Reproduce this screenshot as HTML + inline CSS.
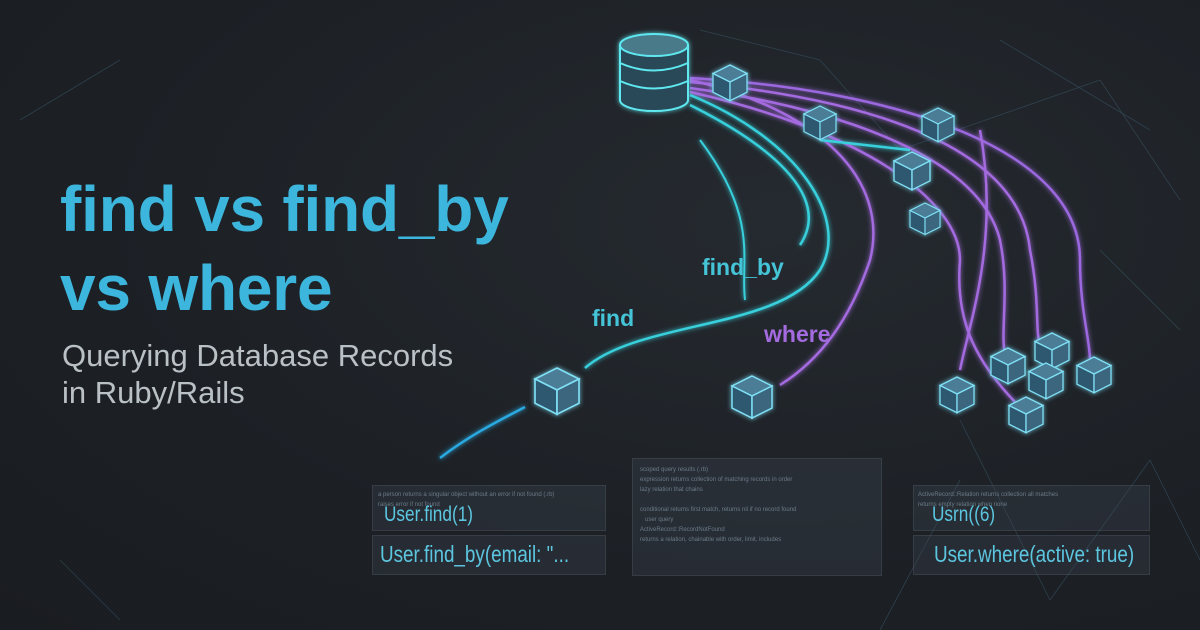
<!DOCTYPE html>
<html><head><meta charset="utf-8"><style>
html,body{margin:0;padding:0}
body{width:1200px;height:630px;overflow:hidden;background:radial-gradient(ellipse at 65% 35%,#252a30 0%,#1d2126 55%,#191c20 100%);font-family:"Liberation Sans",sans-serif;position:relative}
.t{position:absolute;color:#3cb6dc;font-weight:bold;font-size:64px;left:60px;letter-spacing:-0.2px;line-height:76px}
.s{position:absolute;color:#b9c0c6;font-size:31px;left:62px;line-height:36px}
.p{position:absolute;background:rgba(60,70,80,0.35);border:1px solid rgba(90,100,110,0.3)}
.c{position:absolute;color:#5cc6e0;font-family:"Liberation Sans",sans-serif;font-size:21px;transform:scaleX(0.82);transform-origin:left}
.m{position:absolute;font-size:6px;color:#6a7b88;line-height:10px;white-space:pre}
</style></head><body>
<svg width="1200" height="630" style="position:absolute;left:0;top:0">
<defs>
<filter id="g"><feGaussianBlur stdDeviation="2.5" result="b"/><feMerge><feMergeNode in="b"/><feMergeNode in="SourceGraphic"/></feMerge></filter>
<g id="cube"><polygon points="0,-20 20,-10 0,0 -20,-10" fill="#4c7d96" stroke="#7fe0f5" stroke-width="1.5"/><polygon points="-20,-10 0,0 0,22 -20,12" fill="#2f5870" stroke="#7fe0f5" stroke-width="1.5"/><polygon points="20,-10 0,0 0,22 20,12" fill="#3a667e" stroke="#7fe0f5" stroke-width="1.5"/></g>
</defs>
<g stroke="#3a5566" stroke-width="0.8" opacity="0.6">
<line x1="700" y1="30" x2="820" y2="60"/><line x1="820" y1="60" x2="900" y2="150"/><line x1="900" y1="150" x2="1100" y2="80"/><line x1="1100" y1="80" x2="1180" y2="200"/><line x1="960" y1="420" x2="1050" y2="600"/><line x1="1050" y1="600" x2="1150" y2="460"/><line x1="1150" y1="460" x2="1200" y2="560"/><line x1="880" y1="630" x2="960" y2="480"/><line x1="1100" y1="250" x2="1180" y2="330"/><line x1="1000" y1="40" x2="1150" y2="130"/><line x1="20" y1="120" x2="120" y2="60"/><line x1="60" y1="560" x2="120" y2="620"/>
</g>
<g fill="none" stroke-width="2.5" filter="url(#g)">
<path d="M690,95 C800,140 850,220 820,270 C780,330 640,320 585,368" stroke="#38d0dc"/>
<path d="M690,105 C780,150 830,200 800,245" stroke="#38d0dc"/>
<path d="M440,458 C470,435 500,420 525,407" stroke="#2aa8e0"/>
<path d="M690,80 C820,110 890,180 870,260 C850,320 820,360 780,385" stroke="#a46be0"/>
<path d="M690,88 C850,110 980,160 1000,240 C1010,290 1000,330 1005,355" stroke="#a46be0"/>
<path d="M690,82 C880,100 1020,150 1030,250 C1040,300 1035,330 1040,345" stroke="#a46be0"/>
<path d="M690,78 C900,90 1080,150 1080,260 C1080,310 1090,340 1090,360" stroke="#9c68e0"/>
<path d="M690,92 C860,130 960,200 960,260 C955,320 975,360 1015,402" stroke="#a46be0"/>
<path d="M980,130 C1000,240 970,320 960,370" stroke="#a46be0"/>
<path d="M700,140 C760,220 740,260 745,300" stroke="#38d0dc" stroke-width="2"/>
<path d="M820,140 L910,150" stroke="#38d0dc"/>
</g>
<g filter="url(#g)">
<ellipse cx="654" cy="100" rx="34" ry="11" fill="#2a4a58" stroke="#5ee8f0" stroke-width="2"/>
<rect x="620" y="45" width="68" height="55" fill="#2a4a58"/>
<line x1="620" y1="45" x2="620" y2="100" stroke="#5ee8f0" stroke-width="2"/><line x1="688" y1="45" x2="688" y2="100" stroke="#5ee8f0" stroke-width="2"/>
<path d="M620,63 Q654,78 688,63 M620,81 Q654,96 688,81" stroke="#5ee8f0" stroke-width="2" fill="none"/>
<ellipse cx="654" cy="45" rx="34" ry="11" fill="#4a7a8a" stroke="#5ee8f0" stroke-width="2"/>
</g>
<g filter="url(#g)">
<use href="#cube" transform="translate(557,390) scale(1.1)"/>
<use href="#cube" transform="translate(752,396)"/>
<use href="#cube" transform="translate(730,82) scale(0.85)"/>
<use href="#cube" transform="translate(820,122) scale(0.8)"/>
<use href="#cube" transform="translate(938,124) scale(0.8)"/>
<use href="#cube" transform="translate(912,170) scale(0.9)"/>
<use href="#cube" transform="translate(925,218) scale(0.75)"/>
<use href="#cube" transform="translate(1008,365) scale(0.85)"/>
<use href="#cube" transform="translate(1052,350) scale(0.85)"/>
<use href="#cube" transform="translate(1046,380) scale(0.85)"/>
<use href="#cube" transform="translate(1094,374) scale(0.85)"/>
<use href="#cube" transform="translate(957,394) scale(0.85)"/>
<use href="#cube" transform="translate(1026,414) scale(0.85)"/>
</g>
<text x="702" y="275" fill="#45c4d8" font-size="23" font-family="Liberation Sans" font-weight="bold">find_by</text>
<text x="592" y="326" fill="#45c4d8" font-size="23" font-family="Liberation Sans" font-weight="bold">find</text>
<text x="764" y="342" fill="#a46be0" font-size="23" font-family="Liberation Sans" font-weight="bold">where</text>
</svg>
<div class="t" style="top:171px">find vs find_by</div>
<div class="t" style="top:250px">vs where</div>
<div class="s" style="top:338px">Querying Database Records</div>
<div class="s" style="top:375px">in Ruby/Rails</div>
<div class="p" style="left:372px;top:485px;width:232px;height:44px"></div>
<div class="p" style="left:372px;top:535px;width:232px;height:38px"></div>
<div class="p" style="left:632px;top:458px;width:248px;height:116px"></div>
<div class="p" style="left:913px;top:485px;width:235px;height:44px"></div>
<div class="p" style="left:913px;top:535px;width:235px;height:38px"></div>
<div class="m" style="left:378px;top:490px">a person returns a singular object without an error if not found (.rb)
raises error if not found</div>
<div class="m" style="left:640px;top:465px">scoped query results (.rb)
expression returns collection of matching records in order
lazy relation that chains
  
conditional returns first match, returns nil if no record found
   user query
ActiveRecord::RecordNotFound
returns a relation, chainable with order, limit, includes
</div>
<div class="m" style="left:918px;top:490px">ActiveRecord::Relation returns collection all matches
returns empty relation when none</div>
<div class="c" style="left:384px;top:503px">User.find(1)</div>
<div class="c" style="left:380px;top:541px;font-size:23px">User.find_by(email: "...</div>
<div class="c" style="left:932px;top:503px">Usrn((6)</div>
<div class="c" style="left:934px;top:541px;font-size:23px">User.where(active: true)</div>
</body></html>
